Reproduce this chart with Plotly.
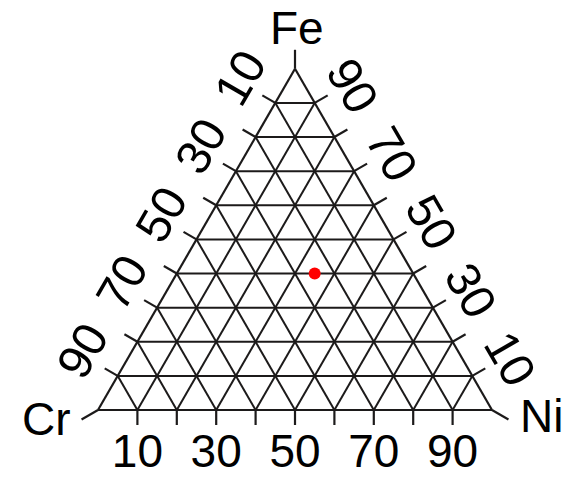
import plotly.graph_objects as go

# ---- data ----
fe = [40]   # top component (a)
cr = [25]   # bottom-left component (b)
ni = [35]   # bottom-right component (c)

tick_values = [10, 20, 30, 40, 50, 60, 70, 80, 90]
labelled = [10, 30, 50, 70, 90]

W, H = 571, 479
line_col = "#1c1a1a"
font_family = "Liberation Sans, Arial, sans-serif"
LW = 2.2

# triangle geometry (pixels)
left_x, right_x, base_y = 98.0, 492.0, 410.0
tri_w = right_x - left_x
tri_h = tri_w * 3 ** 0.5 / 2
dom_x = [left_x / W, right_x / W]
dom_y = [(H - base_y) / H, (H - base_y + tri_h) / H]
P_a = ((left_x + right_x) / 2, base_y - tri_h)
P_b = (left_x, base_y)
P_c = (right_x, base_y)


def to_px(a, b, c):
    return ((a * P_a[0] + b * P_b[0] + c * P_c[0]) / 100,
            (a * P_a[1] + b * P_b[1] + c * P_c[1]) / 100)


fig = go.Figure()
fig.add_trace(go.Scatterternary(
    a=fe, b=cr, c=ni, mode="markers",
    marker=dict(color="#ff0000", size=12, line=dict(width=0)),
    showlegend=False, hoverinfo="skip",
))


def axis(angle, standoff, size, prefix=""):
    text = [prefix + str(100 - v) if (100 - v) in labelled else "" for v in tick_values]
    return dict(
        min=0, tickmode="array", tickvals=tick_values, ticktext=text,
        ticks="outside", ticklen=standoff, tickcolor="rgba(0,0,0,0)",
        showgrid=True, gridcolor=line_col, gridwidth=LW,
        showline=True, linecolor=line_col, linewidth=LW,
        tickfont=dict(size=size, color="black", family=font_family),
        tickangle=angle, title=dict(text=""),
    )


title_font = dict(size=46, color="black", family=font_family)
fig.update_layout(
    width=W, height=H,
    margin=dict(l=0, r=0, t=0, b=0),
    paper_bgcolor="white", plot_bgcolor="white",
    ternary=dict(
        domain=dict(x=dom_x, y=dom_y),
        bgcolor="white", sum=100,
        aaxis=axis(-60, 6, 48),
        baxis=axis(0, 0, 46),
        caxis=axis(60, 4, 48, "\u00a0\u00a0"),
    ),
    annotations=[
        dict(text="Fe", x=297 / W, y=1, xref="paper", yref="paper",
             xanchor="center", yanchor="top", showarrow=False, font=title_font),
        dict(text="Cr", x=47 / W, y=1 - 419 / H, xref="paper", yref="paper",
             xanchor="center", yanchor="middle", showarrow=False, font=title_font),
        dict(text="Ni", x=541 / W, y=1 - 416 / H, xref="paper", yref="paper",
             xanchor="center", yanchor="middle", showarrow=False, font=title_font),
    ],
)

# ---- outward tick marks, perpendicular to each edge ----
TL, CL = 15, 19
s3 = 3 ** 0.5 / 2
ticks = []
for v in tick_values:
    ticks.append((to_px(v, 100 - v, 0), (-s3, -0.5), TL))   # left edge
    ticks.append((to_px(0, v, 100 - v), (0, 1), TL))         # bottom edge
    ticks.append((to_px(v, 0, 100 - v), (s3, -0.5), TL))     # right edge
ticks += [(P_a, (0, -1), CL), (P_b, (-s3, 0.5), CL), (P_c, (s3, 0.5), CL)]
for (x0, y0), (dx, dy), L in ticks:
    fig.add_shape(type="line", xref="paper", yref="paper", layer="above",
                  x0=x0 / W, y0=1 - y0 / H, x1=(x0 + dx * L) / W, y1=1 - (y0 + dy * L) / H,
                  line=dict(color=line_col, width=LW))

fig.write_html("out.html", config={"displayModeBar": False},
               post_script="document.body.style.margin='0';")
